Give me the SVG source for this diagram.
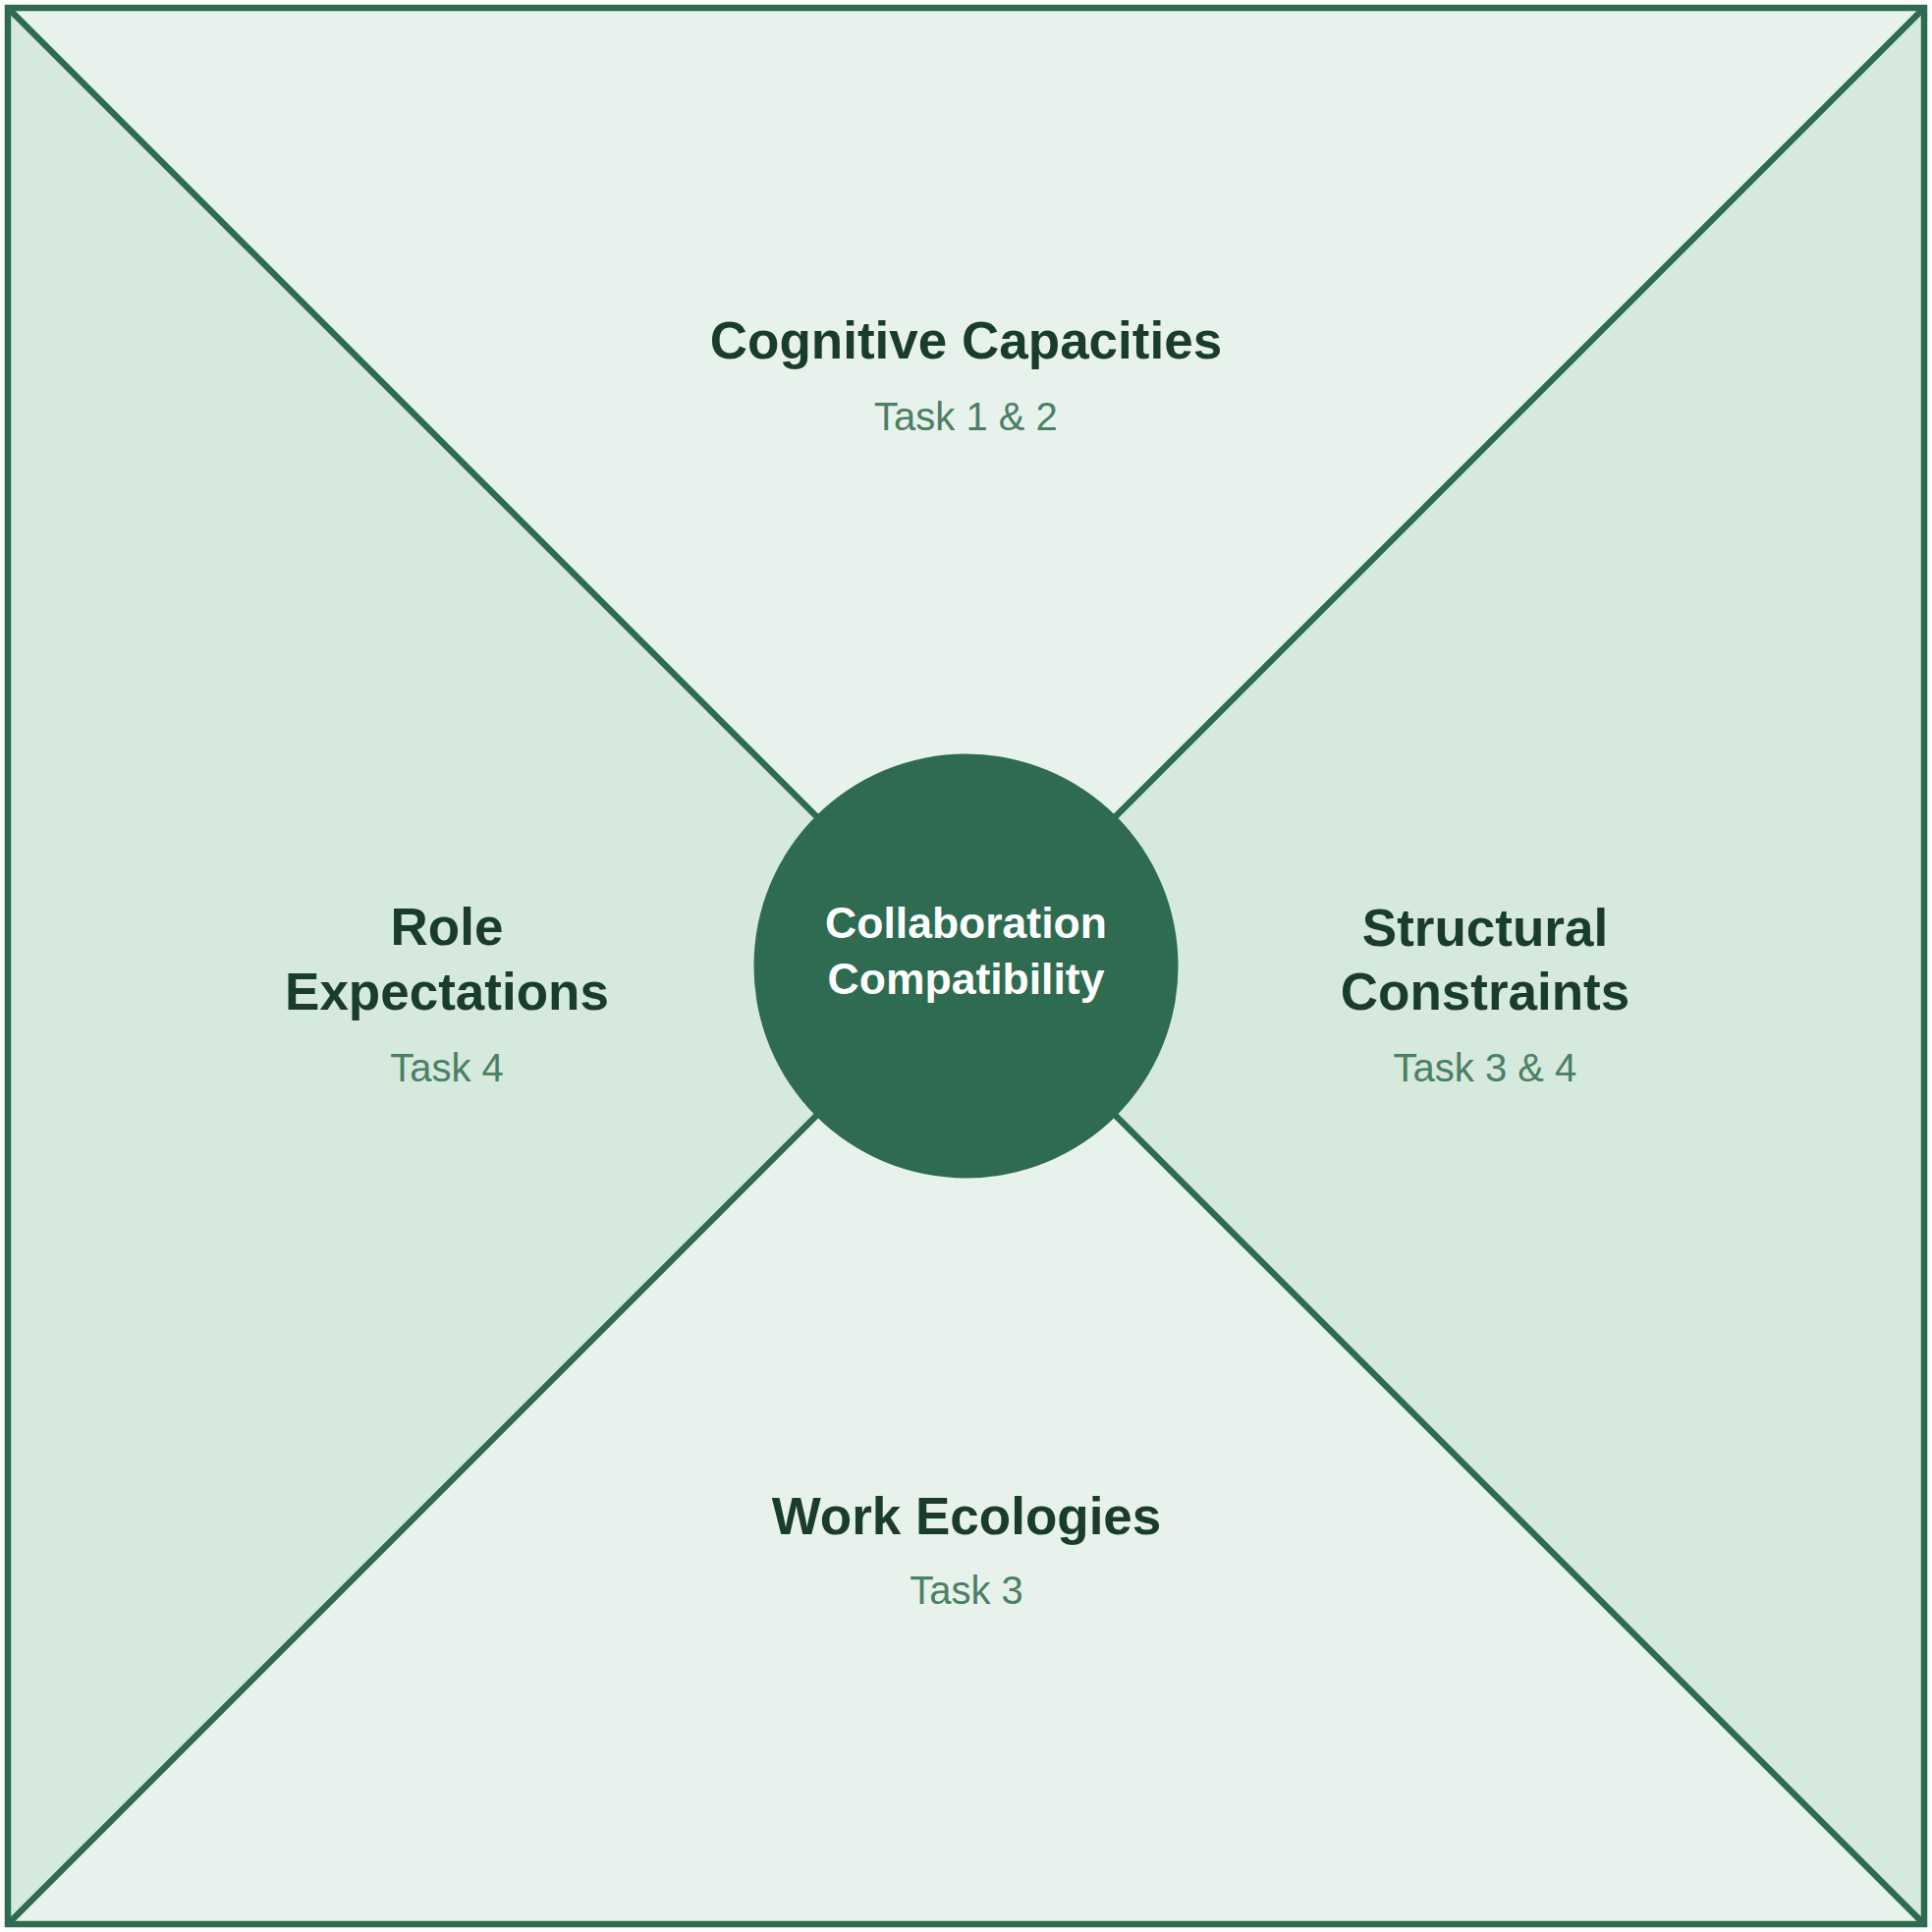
<svg xmlns="http://www.w3.org/2000/svg" width="1967" height="1967" viewBox="0 0 1967 1967">
<style>
.title{font-family:"Liberation Sans",Arial,sans-serif;font-weight:bold;font-size:53px;fill:#1a3d2b;text-anchor:middle}
.sub{font-family:"Liberation Sans",Arial,sans-serif;font-size:40px;fill:#4a8063;text-anchor:middle}
.center{font-family:"Liberation Sans",Arial,sans-serif;font-weight:bold;font-size:44.5px;fill:#ffffff;text-anchor:middle}
.edge{stroke:#2e6b51;stroke-width:6.5;fill:none}
</style>
<g id="quadrants">
<polygon id="q-top" points="8,8 1959,8 983.5,983.5" fill="#e8f2ec"/>
<polygon id="q-bottom" points="8,1959 1959,1959 983.5,983.5" fill="#e8f2ec"/>
<polygon id="q-left" points="8,8 8,1959 983.5,983.5" fill="#d5e9dd"/>
<polygon id="q-right" points="1959,8 1959,1959 983.5,983.5" fill="#d5e9dd"/>
</g>
<g id="connectors">
<line class="edge" x1="8" y1="8" x2="1959" y2="1959"/>
<line class="edge" x1="1959" y1="8" x2="8" y2="1959"/>
<rect class="edge" x="8" y="8" width="1951" height="1951"/>
</g>
<g id="node-cognitive">
<text class="title" x="983.5" y="365">Cognitive Capacities</text>
<text class="sub" x="983.5" y="438">Task 1 &amp; 2</text>
</g>
<g id="node-role">
<text class="title" x="455" y="962">Role</text>
<text class="title" x="455" y="1028">Expectations</text>
<text class="sub" x="455" y="1101">Task 4</text>
</g>
<g id="node-structural">
<text class="title" x="1512" y="963">Structural</text>
<text class="title" x="1512" y="1028">Constraints</text>
<text class="sub" x="1512" y="1101">Task 3 &amp; 4</text>
</g>
<g id="node-work">
<text class="title" x="984" y="1562">Work Ecologies</text>
<text class="sub" x="984" y="1633">Task 3</text>
</g>
<g id="node-center">
<circle cx="983.5" cy="983.5" r="216" fill="#2e6b51"/>
<text class="center" x="983.5" y="955">Collaboration</text>
<text class="center" x="983.5" y="1012">Compatibility</text>
</g>
</svg>
